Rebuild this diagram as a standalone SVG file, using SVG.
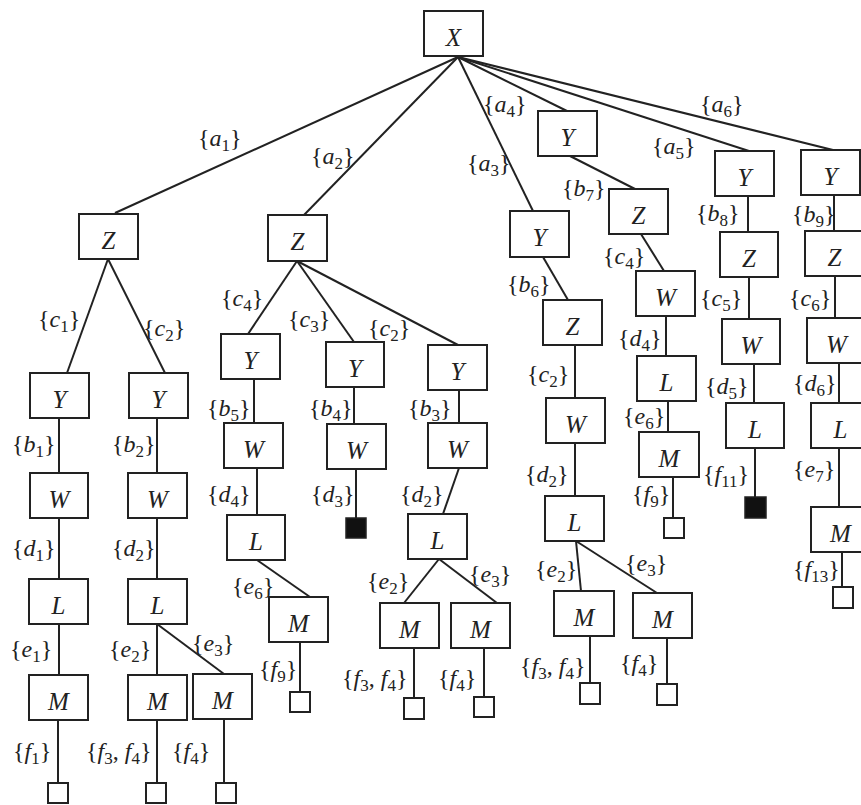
<svg xmlns="http://www.w3.org/2000/svg" width="861" height="805" viewBox="0 0 861 805">
  <style>
    .box { fill: #fff; stroke: #222; stroke-width: 2; }
    .leaf { fill: #fff; stroke: #222; stroke-width: 2; }
    .dead { fill: #111; stroke: #222; stroke-width: 1.5; }
    .edge { stroke: #222; stroke-width: 2; fill: none; }
    .nm { font-family: "Liberation Serif", "Times New Roman", serif; font-style: italic; font-size: 25px; fill: #222; text-anchor: middle; }
    .lb { font-family: "Liberation Serif", "Times New Roman", serif; font-size: 24px; fill: #222; }
    .i { font-style: italic; }
    .s { font-size: 17px; }
  </style>
  <rect width="861" height="805" fill="#fff"/>

  <!-- connectors -->
  <g id="connectors" class="edge">
    <!-- root fan-out -->
    <line x1="458" y1="57" x2="115" y2="213"/>
    <line x1="458" y1="57" x2="304" y2="215"/>
    <line x1="458" y1="57" x2="533" y2="211"/>
    <line x1="458" y1="57" x2="567" y2="111"/>
    <line x1="458" y1="57" x2="749" y2="151"/>
    <line x1="458" y1="57" x2="833" y2="150"/>
    <!-- Z1 subtree -->
    <line x1="108" y1="259" x2="67" y2="373"/>
    <line x1="108" y1="259" x2="165" y2="373"/>
    <line x1="59" y1="418" x2="59" y2="473"/>
    <line x1="157" y1="418" x2="157" y2="473"/>
    <line x1="59" y1="518" x2="59" y2="579"/>
    <line x1="157" y1="518" x2="157" y2="579"/>
    <line x1="59" y1="624" x2="59" y2="675"/>
    <line x1="157" y1="624" x2="157" y2="675"/>
    <line x1="157" y1="624" x2="224" y2="674"/>
    <line x1="58" y1="720" x2="58" y2="783"/>
    <line x1="157" y1="720" x2="157" y2="783"/>
    <line x1="224" y1="719" x2="224" y2="783"/>
    <!-- Z2 subtree -->
    <line x1="297" y1="261" x2="248" y2="334"/>
    <line x1="297" y1="261" x2="354" y2="342"/>
    <line x1="297" y1="261" x2="458" y2="345"/>
    <line x1="254" y1="379" x2="254" y2="423"/>
    <line x1="354" y1="387" x2="354" y2="424"/>
    <line x1="459" y1="390" x2="459" y2="423"/>
    <line x1="257" y1="468" x2="257" y2="515"/>
    <line x1="356" y1="469" x2="356" y2="518"/>
    <line x1="459" y1="468" x2="443" y2="514"/>
    <line x1="257" y1="560" x2="310" y2="597"/>
    <line x1="439" y1="559" x2="404" y2="603"/>
    <line x1="439" y1="559" x2="497" y2="603"/>
    <line x1="300" y1="642" x2="300" y2="692"/>
    <line x1="414" y1="648" x2="414" y2="698"/>
    <line x1="484" y1="648" x2="484" y2="697"/>
    <!-- a3 subtree -->
    <line x1="543" y1="257" x2="568" y2="300"/>
    <line x1="575" y1="345" x2="575" y2="398"/>
    <line x1="575" y1="443" x2="575" y2="496"/>
    <line x1="576" y1="541" x2="581" y2="591"/>
    <line x1="576" y1="541" x2="657" y2="593"/>
    <line x1="590" y1="636" x2="590" y2="683"/>
    <line x1="667" y1="638" x2="667" y2="684"/>
    <!-- a4 subtree -->
    <line x1="570" y1="156" x2="635" y2="189"/>
    <line x1="641" y1="234" x2="664" y2="271"/>
    <line x1="666" y1="316" x2="666" y2="356"/>
    <line x1="668" y1="401" x2="668" y2="432"/>
    <line x1="673" y1="477" x2="673" y2="518"/>
    <!-- a5 subtree -->
    <line x1="748" y1="196" x2="748" y2="232"/>
    <line x1="749" y1="277" x2="749" y2="319"/>
    <line x1="754" y1="364" x2="754" y2="403"/>
    <line x1="755" y1="448" x2="755" y2="497"/>
    <!-- a6 subtree -->
    <line x1="834" y1="195" x2="834" y2="231"/>
    <line x1="835" y1="276" x2="835" y2="318"/>
    <line x1="839" y1="363" x2="839" y2="403"/>
    <line x1="839" y1="448" x2="839" y2="507"/>
    <line x1="842" y1="552" x2="842" y2="587"/>
  </g>

  <!-- edge labels -->
  <g id="labels" class="lb">
    <text x="198" y="146">{<tspan class="i">a</tspan><tspan class="s" dy="5">1</tspan><tspan dy="-5">}</tspan></text>
    <text x="311" y="164">{<tspan class="i">a</tspan><tspan class="s" dy="5">2</tspan><tspan dy="-5">}</tspan></text>
    <text x="467" y="171">{<tspan class="i">a</tspan><tspan class="s" dy="5">3</tspan><tspan dy="-5">}</tspan></text>
    <text x="483" y="112">{<tspan class="i">a</tspan><tspan class="s" dy="5">4</tspan><tspan dy="-5">}</tspan></text>
    <text x="652" y="154">{<tspan class="i">a</tspan><tspan class="s" dy="5">5</tspan><tspan dy="-5">}</tspan></text>
    <text x="700" y="112">{<tspan class="i">a</tspan><tspan class="s" dy="5">6</tspan><tspan dy="-5">}</tspan></text>

    <text x="38" y="327">{<tspan class="i">c</tspan><tspan class="s" dy="5">1</tspan><tspan dy="-5">}</tspan></text>
    <text x="143" y="336">{<tspan class="i">c</tspan><tspan class="s" dy="5">2</tspan><tspan dy="-5">}</tspan></text>
    <text x="12" y="452">{<tspan class="i">b</tspan><tspan class="s" dy="5">1</tspan><tspan dy="-5">}</tspan></text>
    <text x="112" y="452">{<tspan class="i">b</tspan><tspan class="s" dy="5">2</tspan><tspan dy="-5">}</tspan></text>
    <text x="12" y="556">{<tspan class="i">d</tspan><tspan class="s" dy="5">1</tspan><tspan dy="-5">}</tspan></text>
    <text x="112" y="556">{<tspan class="i">d</tspan><tspan class="s" dy="5">2</tspan><tspan dy="-5">}</tspan></text>
    <text x="10" y="657">{<tspan class="i">e</tspan><tspan class="s" dy="5">1</tspan><tspan dy="-5">}</tspan></text>
    <text x="109" y="657">{<tspan class="i">e</tspan><tspan class="s" dy="5">2</tspan><tspan dy="-5">}</tspan></text>
    <text x="192" y="651">{<tspan class="i">e</tspan><tspan class="s" dy="5">3</tspan><tspan dy="-5">}</tspan></text>
    <text x="13" y="759">{<tspan class="i">f</tspan><tspan class="s" dy="5">1</tspan><tspan dy="-5">}</tspan></text>
    <text x="86" y="759">{<tspan class="i">f</tspan><tspan class="s" dy="5">3</tspan><tspan dy="-5">, </tspan><tspan class="i">f</tspan><tspan class="s" dy="5">4</tspan><tspan dy="-5">}</tspan></text>
    <text x="172" y="759">{<tspan class="i">f</tspan><tspan class="s" dy="5">4</tspan><tspan dy="-5">}</tspan></text>

    <text x="221" y="306">{<tspan class="i">c</tspan><tspan class="s" dy="5">4</tspan><tspan dy="-5">}</tspan></text>
    <text x="288" y="327">{<tspan class="i">c</tspan><tspan class="s" dy="5">3</tspan><tspan dy="-5">}</tspan></text>
    <text x="368" y="336">{<tspan class="i">c</tspan><tspan class="s" dy="5">2</tspan><tspan dy="-5">}</tspan></text>
    <text x="207" y="416">{<tspan class="i">b</tspan><tspan class="s" dy="5">5</tspan><tspan dy="-5">}</tspan></text>
    <text x="309" y="416">{<tspan class="i">b</tspan><tspan class="s" dy="5">4</tspan><tspan dy="-5">}</tspan></text>
    <text x="408" y="416">{<tspan class="i">b</tspan><tspan class="s" dy="5">3</tspan><tspan dy="-5">}</tspan></text>
    <text x="207" y="502">{<tspan class="i">d</tspan><tspan class="s" dy="5">4</tspan><tspan dy="-5">}</tspan></text>
    <text x="311" y="502">{<tspan class="i">d</tspan><tspan class="s" dy="5">3</tspan><tspan dy="-5">}</tspan></text>
    <text x="400" y="502">{<tspan class="i">d</tspan><tspan class="s" dy="5">2</tspan><tspan dy="-5">}</tspan></text>
    <text x="232" y="594">{<tspan class="i">e</tspan><tspan class="s" dy="5">6</tspan><tspan dy="-5">}</tspan></text>
    <text x="259" y="677">{<tspan class="i">f</tspan><tspan class="s" dy="5">9</tspan><tspan dy="-5">}</tspan></text>
    <text x="367" y="589">{<tspan class="i">e</tspan><tspan class="s" dy="5">2</tspan><tspan dy="-5">}</tspan></text>
    <text x="469" y="582">{<tspan class="i">e</tspan><tspan class="s" dy="5">3</tspan><tspan dy="-5">}</tspan></text>
    <text x="342" y="686">{<tspan class="i">f</tspan><tspan class="s" dy="5">3</tspan><tspan dy="-5">, </tspan><tspan class="i">f</tspan><tspan class="s" dy="5">4</tspan><tspan dy="-5">}</tspan></text>
    <text x="438" y="686">{<tspan class="i">f</tspan><tspan class="s" dy="5">4</tspan><tspan dy="-5">}</tspan></text>

    <text x="507" y="292">{<tspan class="i">b</tspan><tspan class="s" dy="5">6</tspan><tspan dy="-5">}</tspan></text>
    <text x="527" y="382">{<tspan class="i">c</tspan><tspan class="s" dy="5">2</tspan><tspan dy="-5">}</tspan></text>
    <text x="525" y="482">{<tspan class="i">d</tspan><tspan class="s" dy="5">2</tspan><tspan dy="-5">}</tspan></text>
    <text x="535" y="577">{<tspan class="i">e</tspan><tspan class="s" dy="5">2</tspan><tspan dy="-5">}</tspan></text>
    <text x="625" y="571">{<tspan class="i">e</tspan><tspan class="s" dy="5">3</tspan><tspan dy="-5">}</tspan></text>
    <text x="520" y="674">{<tspan class="i">f</tspan><tspan class="s" dy="5">3</tspan><tspan dy="-5">, </tspan><tspan class="i">f</tspan><tspan class="s" dy="5">4</tspan><tspan dy="-5">}</tspan></text>
    <text x="620" y="671">{<tspan class="i">f</tspan><tspan class="s" dy="5">4</tspan><tspan dy="-5">}</tspan></text>

    <text x="562" y="196">{<tspan class="i">b</tspan><tspan class="s" dy="5">7</tspan><tspan dy="-5">}</tspan></text>
    <text x="603" y="264">{<tspan class="i">c</tspan><tspan class="s" dy="5">4</tspan><tspan dy="-5">}</tspan></text>
    <text x="618" y="346">{<tspan class="i">d</tspan><tspan class="s" dy="5">4</tspan><tspan dy="-5">}</tspan></text>
    <text x="623" y="424">{<tspan class="i">e</tspan><tspan class="s" dy="5">6</tspan><tspan dy="-5">}</tspan></text>
    <text x="632" y="502">{<tspan class="i">f</tspan><tspan class="s" dy="5">9</tspan><tspan dy="-5">}</tspan></text>

    <text x="696" y="221">{<tspan class="i">b</tspan><tspan class="s" dy="5">8</tspan><tspan dy="-5">}</tspan></text>
    <text x="700" y="306">{<tspan class="i">c</tspan><tspan class="s" dy="5">5</tspan><tspan dy="-5">}</tspan></text>
    <text x="705" y="394">{<tspan class="i">d</tspan><tspan class="s" dy="5">5</tspan><tspan dy="-5">}</tspan></text>
    <text x="703" y="482">{<tspan class="i">f</tspan><tspan class="s" dy="5">11</tspan><tspan dy="-5">}</tspan></text>

    <text x="792" y="222">{<tspan class="i">b</tspan><tspan class="s" dy="5">9</tspan><tspan dy="-5">}</tspan></text>
    <text x="789" y="306">{<tspan class="i">c</tspan><tspan class="s" dy="5">6</tspan><tspan dy="-5">}</tspan></text>
    <text x="793" y="391">{<tspan class="i">d</tspan><tspan class="s" dy="5">6</tspan><tspan dy="-5">}</tspan></text>
    <text x="793" y="477">{<tspan class="i">e</tspan><tspan class="s" dy="5">7</tspan><tspan dy="-5">}</tspan></text>
    <text x="793" y="577">{<tspan class="i">f</tspan><tspan class="s" dy="5">13</tspan><tspan dy="-5">}</tspan></text>
  </g>

  <!-- nodes -->
  <g id="n-root"><rect class="box" x="424" y="11" width="59" height="45"/><text class="nm" x="453.5" y="46">X</text></g>

  <g id="n-z1"><rect class="box" x="79" y="214" width="59" height="45"/><text class="nm" x="108.5" y="249">Z</text></g>
  <g id="n-z1-y1"><rect class="box" x="30" y="373" width="59" height="45"/><text class="nm" x="59.5" y="408">Y</text></g>
  <g id="n-z1-y2"><rect class="box" x="129" y="373" width="59" height="45"/><text class="nm" x="158.5" y="408">Y</text></g>
  <g id="n-z1-w1"><rect class="box" x="30" y="473" width="58" height="45"/><text class="nm" x="59" y="508">W</text></g>
  <g id="n-z1-w2"><rect class="box" x="128" y="473" width="59" height="45"/><text class="nm" x="157.5" y="508">W</text></g>
  <g id="n-z1-l1"><rect class="box" x="29" y="579" width="59" height="45"/><text class="nm" x="58.5" y="614">L</text></g>
  <g id="n-z1-l2"><rect class="box" x="128" y="579" width="59" height="45"/><text class="nm" x="157.5" y="614">L</text></g>
  <g id="n-z1-m1"><rect class="box" x="29" y="675" width="59" height="45"/><text class="nm" x="58.5" y="710">M</text></g>
  <g id="n-z1-m2"><rect class="box" x="128" y="675" width="59" height="45"/><text class="nm" x="157.5" y="710">M</text></g>
  <g id="n-z1-m3"><rect class="box" x="193" y="674" width="59" height="45"/><text class="nm" x="222.5" y="709">M</text></g>
  <g id="n-z1-t1"><rect class="leaf" x="48" y="783" width="20" height="20"/></g>
  <g id="n-z1-t2"><rect class="leaf" x="146" y="783" width="20" height="20"/></g>
  <g id="n-z1-t3"><rect class="leaf" x="216" y="783" width="20" height="20"/></g>

  <g id="n-z2"><rect class="box" x="268" y="215" width="59" height="46"/><text class="nm" x="297.5" y="250">Z</text></g>
  <g id="n-z2-y4"><rect class="box" x="221" y="334" width="59" height="45"/><text class="nm" x="250.5" y="369">Y</text></g>
  <g id="n-z2-y3"><rect class="box" x="326" y="342" width="58" height="45"/><text class="nm" x="355" y="377">Y</text></g>
  <g id="n-z2-y2"><rect class="box" x="428" y="345" width="59" height="45"/><text class="nm" x="457.5" y="380">Y</text></g>
  <g id="n-z2-w5"><rect class="box" x="224" y="423" width="59" height="45"/><text class="nm" x="253.5" y="458">W</text></g>
  <g id="n-z2-w4"><rect class="box" x="327" y="424" width="59" height="45"/><text class="nm" x="356.5" y="459">W</text></g>
  <g id="n-z2-w3"><rect class="box" x="428" y="423" width="59" height="45"/><text class="nm" x="457.5" y="458">W</text></g>
  <g id="n-z2-l4"><rect class="box" x="227" y="515" width="58" height="45"/><text class="nm" x="256" y="550">L</text></g>
  <g id="n-z2-x3"><rect class="dead" x="346" y="518" width="20" height="20"/></g>
  <g id="n-z2-l2"><rect class="box" x="408" y="514" width="59" height="45"/><text class="nm" x="437.5" y="549">L</text></g>
  <g id="n-z2-m6"><rect class="box" x="269" y="597" width="59" height="45"/><text class="nm" x="298.5" y="632">M</text></g>
  <g id="n-z2-m2"><rect class="box" x="380" y="603" width="59" height="45"/><text class="nm" x="409.5" y="638">M</text></g>
  <g id="n-z2-m3"><rect class="box" x="451" y="603" width="59" height="45"/><text class="nm" x="480.5" y="638">M</text></g>
  <g id="n-z2-t9"><rect class="leaf" x="290" y="692" width="20" height="20"/></g>
  <g id="n-z2-t34"><rect class="leaf" x="404" y="698" width="20" height="21"/></g>
  <g id="n-z2-t4"><rect class="leaf" x="474" y="697" width="20" height="20"/></g>

  <g id="n-a3-y"><rect class="box" x="510" y="211" width="59" height="46"/><text class="nm" x="539.5" y="246">Y</text></g>
  <g id="n-a3-z"><rect class="box" x="543" y="300" width="59" height="45"/><text class="nm" x="572.5" y="335">Z</text></g>
  <g id="n-a3-w"><rect class="box" x="546" y="398" width="59" height="45"/><text class="nm" x="575.5" y="433">W</text></g>
  <g id="n-a3-l"><rect class="box" x="545" y="496" width="59" height="45"/><text class="nm" x="574.5" y="531">L</text></g>
  <g id="n-a3-m2"><rect class="box" x="554" y="591" width="60" height="45"/><text class="nm" x="584" y="626">M</text></g>
  <g id="n-a3-m3"><rect class="box" x="633" y="593" width="59" height="45"/><text class="nm" x="662.5" y="628">M</text></g>
  <g id="n-a3-t34"><rect class="leaf" x="580" y="683" width="20" height="21"/></g>
  <g id="n-a3-t4"><rect class="leaf" x="657" y="684" width="20" height="21"/></g>

  <g id="n-a4-y"><rect class="box" x="538" y="111" width="59" height="45"/><text class="nm" x="567.5" y="146">Y</text></g>
  <g id="n-a4-z"><rect class="box" x="609" y="189" width="59" height="45"/><text class="nm" x="638.5" y="224">Z</text></g>
  <g id="n-a4-w"><rect class="box" x="636" y="271" width="59" height="45"/><text class="nm" x="665.5" y="306">W</text></g>
  <g id="n-a4-l"><rect class="box" x="637" y="356" width="59" height="45"/><text class="nm" x="666.5" y="391">L</text></g>
  <g id="n-a4-m"><rect class="box" x="639" y="432" width="60" height="45"/><text class="nm" x="669" y="467">M</text></g>
  <g id="n-a4-t9"><rect class="leaf" x="664" y="518" width="20" height="20"/></g>

  <g id="n-a5-y"><rect class="box" x="715" y="151" width="59" height="45"/><text class="nm" x="744.5" y="186">Y</text></g>
  <g id="n-a5-z"><rect class="box" x="720" y="232" width="58" height="45"/><text class="nm" x="749" y="267">Z</text></g>
  <g id="n-a5-w"><rect class="box" x="722" y="319" width="58" height="45"/><text class="nm" x="751" y="354">W</text></g>
  <g id="n-a5-l"><rect class="box" x="726" y="403" width="58" height="45"/><text class="nm" x="755" y="438">L</text></g>
  <g id="n-a5-x11"><rect class="dead" x="745" y="497" width="21" height="21"/></g>

  <g id="n-a6-y"><rect class="box" x="801" y="150" width="59" height="45"/><text class="nm" x="830.5" y="185">Y</text></g>
  <g id="n-a6-z"><rect class="box" x="805" y="231" width="59" height="45"/><text class="nm" x="834.5" y="266">Z</text></g>
  <g id="n-a6-w"><rect class="box" x="807" y="318" width="59" height="45"/><text class="nm" x="836.5" y="353">W</text></g>
  <g id="n-a6-l"><rect class="box" x="811" y="403" width="59" height="45"/><text class="nm" x="840.5" y="438">L</text></g>
  <g id="n-a6-m"><rect class="box" x="811" y="507" width="59" height="45"/><text class="nm" x="840.5" y="542">M</text></g>
  <g id="n-a6-t13"><rect class="leaf" x="833" y="587" width="20" height="21"/></g>
</svg>
